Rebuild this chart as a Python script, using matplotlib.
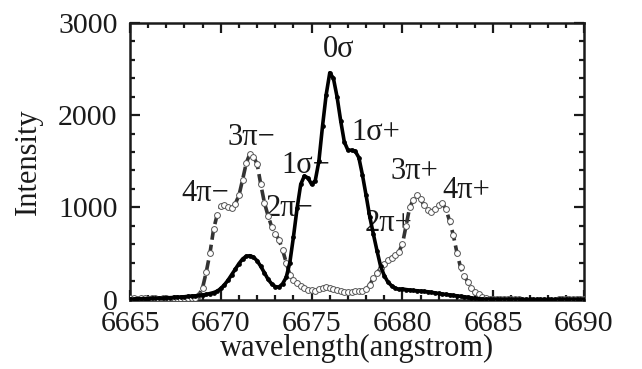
import numpy as np
import matplotlib
matplotlib.use('Agg')
import matplotlib.pyplot as plt
from matplotlib.ticker import MultipleLocator

plt.rcParams['font.family'] = ['Liberation Serif', 'DejaVu Serif']

# wavelength grid (angstrom), 0.2 step sampling
wl = np.round(np.arange(6665.0, 6690.01, 0.2), 1)

# pi component (dashed, open circles)
pi_int = [
    15, 12, 10, 15, 12, 10, 14, 12, 10, 15,      # 6665.0 - 6666.8
    12, 10, 14, 12, 10, 15, 18, 20, 20, 50,      # 6667.0 - 6668.8
    130, 300, 500, 760, 920, 1010, 1020, 1000, 990, 1040,   # 6669.0 - 6670.8
    1130, 1300, 1480, 1580, 1550, 1470, 1250, 1050, 910, 790,  # 6671.0 - 6672.8
    715, 650, 540, 400, 270, 210, 180, 150, 125, 108,   # 6673.0 - 6674.8
    100, 95, 110, 125, 135, 130, 115, 100, 90, 85,      # 6675.0 - 6676.8
    85, 85, 90, 90, 95, 110, 160, 230, 290, 340,        # 6677.0 - 6678.8
    380, 425, 455, 480, 515, 600, 800, 1000, 1080, 1130,  # 6679.0 - 6680.8
    1090, 1020, 970, 950, 985, 1030, 1045, 980, 850, 700,  # 6681.0 - 6682.8
    510, 350, 260, 190, 125, 85, 55, 30, 15, 10,        # 6683.0 - 6684.8
    10, 10, 10, 10, 10, 10, 10, 10, 10, 10,             # 6685.0 - 6686.8
    10, 10, 10, 10, 10, 10, 10, 10, 10, 10,             # 6687.0 - 6688.8
    10, 10, 10, 10, 10, 10,                             # 6689.0 - 6690.0
]
pi_int = np.array(pi_int, dtype=float)
# no pi points recorded between 6686.6 and 6688.4
pi_int[(wl > 6686.5) & (wl < 6688.5)] = np.nan

# sigma component (solid, filled dots)
sigma_int = [
    5, 5, 8, 8, 10, 10, 12, 12, 15, 15,                 # 6665.0 - 6666.8
    18, 20, 22, 25, 28, 30, 35, 38, 40, 45,             # 6667.0 - 6668.8
    50, 55, 65, 75, 90, 120, 160, 210, 270, 330,        # 6669.0 - 6670.8
    390, 440, 470, 475, 460, 420, 360, 290, 220, 170,   # 6671.0 - 6672.8
    140, 135, 170, 240, 400, 680, 990, 1250, 1340, 1320,  # 6673.0 - 6674.8
    1250, 1290, 1500, 1880, 2220, 2460, 2400, 2200, 1940, 1710,  # 6675.0 - 6676.8
    1620, 1620, 1610, 1540, 1350, 1130, 900, 710, 530, 360,  # 6677.0 - 6678.8
    260, 190, 150, 125, 110, 115, 108, 103, 98, 95,     # 6679.0 - 6680.8
    92, 88, 84, 78, 72, 66, 60, 55, 50, 45,             # 6681.0 - 6682.8
    40, 35, 30, 25, 18, 12, 8, 5, 3, 2,                 # 6683.0 - 6684.8
    2, 2, 1, 1, 1, 1, 1, 1, 1, 1,                       # 6685.0 - 6686.8
    1, 1, 1, 1, 1, 1, 1, 1, 1, 1,                       # 6687.0 - 6688.8
    1, 1, 1, 1, 1, 1,                                   # 6689.0 - 6690.0
]

labels = ['0σ', '1σ+', '1σ−', '3π−', '4π−', '2π−', '2π+', '3π+', '4π+']
label_x = [6676.5, 6678.55, 6674.7, 6671.66, 6669.13, 6673.76, 6679.26, 6680.64, 6683.5]
label_y = [2710, 1810, 1454, 1757, 1151, 989, 827, 1389, 1184]

fig = plt.figure(figsize=(6.42, 3.69), dpi=100)
ax = fig.add_axes([0.2025, 0.1883, 0.7072, 0.7494])

ax.plot(wl, pi_int, color='#333333', linewidth=2.6, linestyle=(0, (3, 1.4)),
        marker='o', markersize=4.2, markerfacecolor='white',
        markeredgecolor='#555555', markeredgewidth=0.7, zorder=3)
ax.plot(wl, sigma_int, color='black', linewidth=2.6,
        marker='o', markersize=2.4, markerfacecolor='black',
        markeredgecolor='black', zorder=4)

for t, x, y in zip(labels, label_x, label_y):
    ax.text(x, y, t, fontsize=22, ha='center', va='center', color='#1a1a1a', zorder=2)

ax.set_xlim(6665, 6690)
ax.set_ylim(0, 3000)
ax.xaxis.set_major_locator(MultipleLocator(5))
ax.xaxis.set_minor_locator(MultipleLocator(1))
ax.yaxis.set_major_locator(MultipleLocator(1000))
ax.yaxis.set_minor_locator(MultipleLocator(200))
ax.tick_params(which='both', direction='in', top=True, right=True, width=1.6,
               labelsize=21.5, colors='#1a1a1a')
ax.tick_params(which='major', length=7)
ax.tick_params(which='minor', length=3.8)
ax.tick_params(axis='x', pad=8)
ax.tick_params(axis='y', pad=9)
for s in ax.spines.values():
    s.set_linewidth(1.8)
    s.set_color('#1a1a1a')

ax.set_xlabel('wavelength(angstrom)', fontsize=22, color='#1a1a1a', labelpad=-2)
ax.set_ylabel('Intensity', fontsize=22, color='#1a1a1a', labelpad=11)

fig.savefig('out.png', dpi=100)
